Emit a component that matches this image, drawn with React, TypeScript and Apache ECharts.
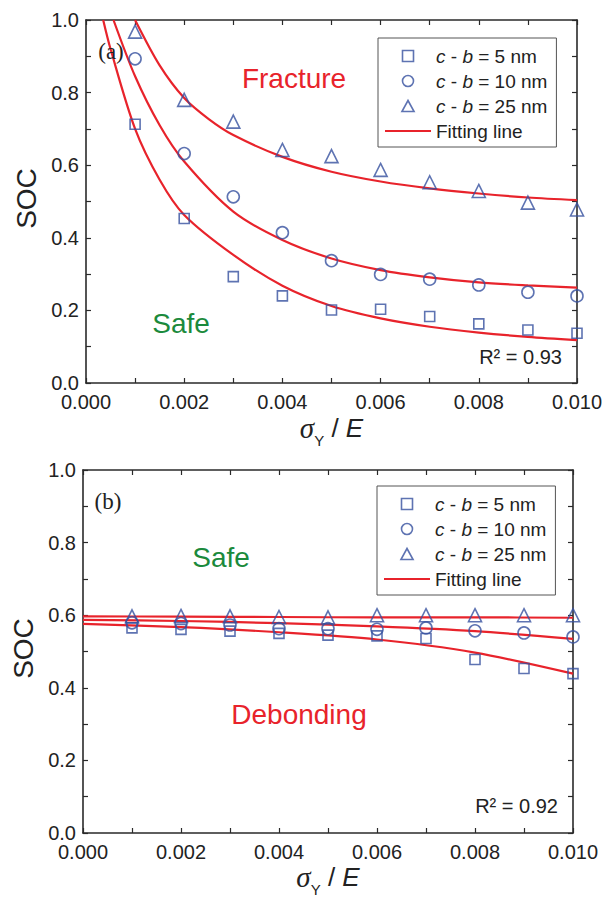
import { useEffect, useRef } from 'react';
import * as echarts from 'echarts';

// ---------- data ----------
const xValues = [0.001, 0.002, 0.003, 0.004, 0.005, 0.006, 0.007, 0.008, 0.009, 0.010];
const seriesNames = ['c - b = 5 nm', 'c - b = 10 nm', 'c - b = 25 nm', 'Fitting line'];
const xTickLabels = ['0.000', '0.002', '0.004', '0.006', '0.008', '0.010'];
const yTickLabels = ['0.0', '0.2', '0.4', '0.6', '0.8', '1.0'];

// panel (a)
const a5 = [0.713, 0.453, 0.293, 0.240, 0.201, 0.203, 0.183, 0.163, 0.146, 0.137];
const a10 = [0.893, 0.632, 0.513, 0.414, 0.337, 0.299, 0.286, 0.270, 0.250, 0.240];
const a25 = [0.968, 0.780, 0.720, 0.642, 0.625, 0.587, 0.553, 0.529, 0.497, 0.478];
const fitA5 = [[0.00035, 1.0], [0.0005, 0.92], [0.001, 0.70], [0.0015, 0.56], [0.002, 0.463], [0.003, 0.353], [0.004, 0.268], [0.005, 0.212], [0.006, 0.178], [0.007, 0.155], [0.008, 0.139], [0.009, 0.127], [0.010, 0.118]];
const fitA10 = [[0.00056, 1.0], [0.001, 0.845], [0.0015, 0.71], [0.002, 0.61], [0.003, 0.472], [0.004, 0.394], [0.005, 0.343], [0.006, 0.311], [0.007, 0.291], [0.008, 0.277], [0.009, 0.269], [0.010, 0.263]];
const fitA25 = [[0.001, 1.0], [0.0015, 0.875], [0.002, 0.785], [0.0025, 0.727], [0.003, 0.683], [0.004, 0.623], [0.005, 0.582], [0.006, 0.555], [0.007, 0.536], [0.008, 0.522], [0.009, 0.511], [0.010, 0.504]];

// panel (b)
const b5 = [0.565, 0.561, 0.556, 0.550, 0.545, 0.543, 0.536, 0.478, 0.453, 0.439];
const b10 = [0.579, 0.577, 0.573, 0.563, 0.563, 0.561, 0.565, 0.557, 0.551, 0.540];
const b25 = [0.597, 0.598, 0.597, 0.595, 0.594, 0.600, 0.600, 0.600, 0.600, 0.600];
const fitB5 = [[0, 0.576], [0.002, 0.567], [0.004, 0.553], [0.006, 0.533], [0.008, 0.497], [0.010, 0.439]];
const fitB10 = [[0, 0.587], [0.002, 0.584], [0.004, 0.578], [0.006, 0.569], [0.008, 0.556], [0.010, 0.535]];
const fitB25 = [[0, 0.597], [0.002, 0.596], [0.004, 0.595], [0.006, 0.594], [0.008, 0.594], [0.010, 0.593]];

// ---------- styles ----------
const FONT = 'Liberation Sans, Arial, Helvetica, sans-serif';
const SERIF = 'Liberation Serif, Times New Roman, serif';
const BLUE = '#36509f';
const RED = '#e8232b';
const GREEN = '#1b8a3c';
const AXIS = '#2a2a2a';
const CLEAR = 'rgba(0,0,0,0)';

const ICON_SQUARE = 'path://M0,0H10V10H0Z';
const ICON_CIRCLE = 'path://M0,5A5,5,0,1,1,10,5A5,5,0,1,1,0,5Z';
const ICON_TRIANGLE = 'path://M5.5,0L11,10H0Z';
const ICON_LINE = 'path://M0,0H46V2.2H0Z';

const pairs = (ys: number[]) => xValues.map((x, i) => [x, ys[i]]);

export default function App() {
  const ref = useRef<HTMLDivElement>(null);

  useEffect(() => {
    if (!ref.current) return;
    const chart = echarts.init(ref.current, null, { renderer: 'svg' });

    const xLabelIdx = (v: number) => xTickLabels[Math.round(v / 0.002)] ?? '';
    const yLabelIdx = (v: number) => yTickLabels[Math.round(v / 0.2)] ?? '';

    const xNameRich = {
      s: { fontFamily: SERIF, fontStyle: 'italic', fontSize: 29, lineHeight: 40, color: '#222' },
      sub: { fontFamily: FONT, fontSize: 15, lineHeight: 15, verticalAlign: 'bottom', color: '#222' },
      n: { fontFamily: FONT, fontSize: 26, lineHeight: 40, color: '#222' },
      e: { fontFamily: FONT, fontStyle: 'italic', fontSize: 26, lineHeight: 40, color: '#222' },
    };

    const tickStyle = { color: AXIS, width: 1.2 };
    const lineStyleAxis = { color: AXIS, width: 1.6 };

    const bottomX = (gridIndex: number, gap: number) => ({
      type: 'value', gridIndex, min: 0, max: 0.01, interval: 0.002, position: 'bottom',
      name: '{s|σ}{sub|Y}{n| / }{e|E}', nameLocation: 'middle', nameGap: gap,
      nameTextStyle: { rich: xNameRich },
      axisLine: { show: true, onZero: false, lineStyle: lineStyleAxis },
      axisTick: { show: true, inside: true, length: 5, lineStyle: tickStyle },
      minorTick: { show: true, splitNumber: 2, length: 5, lineStyle: tickStyle },
      axisLabel: { formatter: xLabelIdx, fontFamily: FONT, fontSize: 20, color: '#222', margin: 9, showMaxLabel: true, showMinLabel: true },
      splitLine: { show: false },
    });
    const topX = (gridIndex: number) => ({
      type: 'value', gridIndex, min: 0, max: 0.01, interval: 0.002, position: 'top',
      axisLine: { show: true, onZero: false, lineStyle: lineStyleAxis },
      axisTick: { show: true, inside: true, length: 5, lineStyle: tickStyle },
      minorTick: { show: true, splitNumber: 2, length: 5, lineStyle: tickStyle },
      axisLabel: { show: false },
      splitLine: { show: false },
    });
    const leftY = (gridIndex: number) => ({
      type: 'value', gridIndex, min: 0, max: 1, interval: 0.2, position: 'left',
      name: 'SOC', nameLocation: 'middle', nameGap: 46, nameRotate: 90,
      nameTextStyle: { fontFamily: FONT, fontSize: 28, color: '#222', padding: [0, 0, 0, 6] },
      axisLine: { show: true, onZero: false, lineStyle: lineStyleAxis },
      axisTick: { show: true, inside: true, length: 5, lineStyle: tickStyle },
      minorTick: { show: true, splitNumber: 2, length: 5, lineStyle: tickStyle },
      axisLabel: { formatter: yLabelIdx, fontFamily: FONT, fontSize: 20, color: '#222', margin: 7 },
      splitLine: { show: false },
    });
    const rightY = (gridIndex: number) => ({
      type: 'value', gridIndex, min: 0, max: 1, interval: 0.2, position: 'right',
      axisLine: { show: true, onZero: false, lineStyle: lineStyleAxis },
      axisTick: { show: true, inside: true, length: 5, lineStyle: tickStyle },
      minorTick: { show: true, splitNumber: 2, length: 5, lineStyle: tickStyle },
      axisLabel: { show: false },
      splitLine: { show: false },
    });

    const scatter = (name: string, data: number[][], symbol: string, size: number, xi: number, yi: number) => ({
      type: 'scatter', name, data, symbol, symbolSize: size,
      xAxisIndex: xi, yAxisIndex: yi, z: 3,
      itemStyle: { color: CLEAR, borderColor: BLUE, borderWidth: 1.6 },
    });
    const fit = (data: number[][], xi: number, yi: number) => ({
      type: 'line', name: 'Fitting line', data, xAxisIndex: xi, yAxisIndex: yi,
      symbol: 'none', showSymbol: false, smooth: 0.3, z: 2,
      lineStyle: { color: RED, width: 2.2 }, itemStyle: { color: RED },
    });

    const markerStyle = { color: CLEAR, borderColor: BLUE, borderWidth: 1.6 };
    const legendData = [
      { name: seriesNames[0], icon: ICON_SQUARE, itemStyle: markerStyle },
      { name: seriesNames[1], icon: ICON_CIRCLE, itemStyle: markerStyle },
      { name: seriesNames[2], icon: ICON_TRIANGLE, itemStyle: markerStyle },
      { name: seriesNames[3], icon: ICON_LINE, itemStyle: { color: RED, borderWidth: 0 } },
    ];
    const legendFmt = (name: string) => {
      if (name.startsWith('c - b')) return '{i|c} - {i|b} = ' + name.split('= ')[1];
      return name;
    };
    const legend = (left: number, top: number) => ({
      left, top, orient: 'vertical', data: legendData, selectedMode: false,
      symbolKeepAspect: true,
      backgroundColor: '#fff', borderColor: '#555', borderWidth: 1, padding: [8, 9, 6, 7],
      itemWidth: 46, itemHeight: 11, itemGap: 5,
      formatter: legendFmt,
      textStyle: {
        fontFamily: FONT, fontSize: 19, lineHeight: 20, color: '#222',
        rich: { i: { fontFamily: FONT, fontStyle: 'italic', fontSize: 19, lineHeight: 20, color: '#222' } },
      },
    });

    const txt = (text: string, x: number, y: number, size: number, color: string, family = FONT, align = 'center') => ({
      type: 'text', x, y, z: 10,
      style: { text, fontFamily: family, fontSize: size, fill: color, align, verticalAlign: 'middle' },
    });

    chart.setOption({
      animation: false,
      backgroundColor: '#fff',
      grid: [
        { left: 86, top: 20, width: 491, height: 363, containLabel: false, outerBoundsMode: 'none' },
        { left: 83, top: 470, width: 490, height: 363, containLabel: false, outerBoundsMode: 'none' },
      ],
      xAxis: [bottomX(0, 25), topX(0), bottomX(1, 23), topX(1)],
      yAxis: [leftY(0), rightY(0), leftY(1), rightY(1)],
      legend: [legend(378, 38), legend(377, 486)],
      series: [
        fit(fitA5, 0, 0), fit(fitA10, 0, 0), fit(fitA25, 0, 0),
        scatter(seriesNames[0], pairs(a5), 'rect', 10, 0, 0),
        scatter(seriesNames[1], pairs(a10), 'circle', 12, 0, 0),
        scatter(seriesNames[2], pairs(a25), 'triangle', 13, 0, 0),
        fit(fitB5, 2, 2), fit(fitB10, 2, 2), fit(fitB25, 2, 2),
        scatter(seriesNames[0], pairs(b5), 'rect', 10, 2, 2),
        scatter(seriesNames[1], pairs(b10), 'circle', 12, 2, 2),
        scatter(seriesNames[2], pairs(b25), 'triangle', 13, 2, 2),
      ],
      graphic: [
        txt('(a)', 111, 51, 23, '#222', SERIF),
        txt('Fracture', 294, 78, 28, RED),
        txt('Safe', 181, 323, 28, GREEN),
        txt('R² = 0.93', 562, 357, 20, '#222', FONT, 'right'),
        txt('(b)', 108, 501, 23, '#222', SERIF),
        txt('Safe', 221, 557, 28, GREEN),
        txt('Debonding', 299, 714, 28, RED),
        txt('R² = 0.92', 558, 806, 20, '#222', FONT, 'right'),
      ],
    });

    return () => chart.dispose();
  }, []);

  return <div ref={ref} style={{ position: 'absolute', left: 0, top: 0, width: 604, height: 898 }} />;
}
